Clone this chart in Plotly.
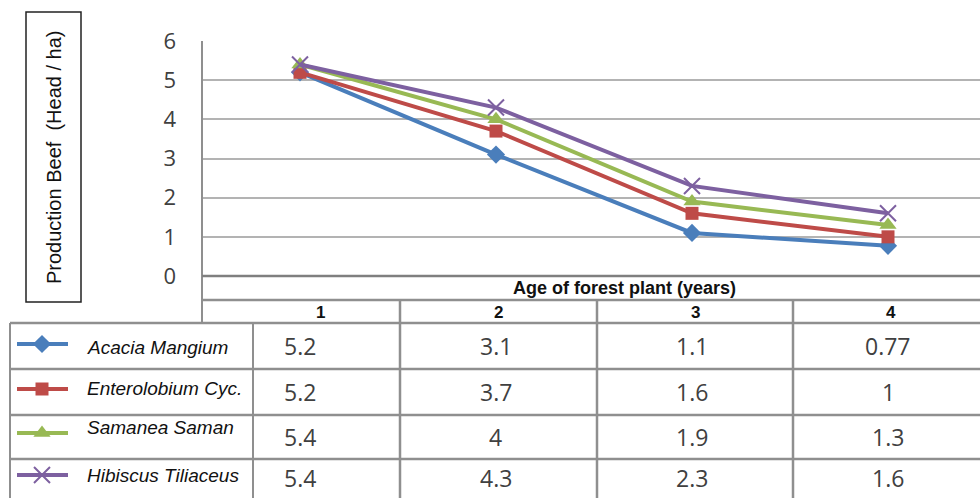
import plotly.graph_objects as go

# ---------------- data ----------------
years = [1, 2, 3, 4]
year_labels = ["1", "2", "3", "4"]
series_names = ["Acacia Mangium", "Enterolobium Cyc.", "Samanea Saman", "Hibiscus Tiliaceus"]
acacia = [5.2, 3.1, 1.1, 0.77]
enterolobium = [5.2, 3.7, 1.6, 1]
samanea = [5.4, 4, 1.9, 1.3]
hibiscus = [5.4, 4.3, 2.3, 1.6]
y_tick_values = [0, 1, 2, 3, 4, 5, 6]
x_title = "Age of forest plant (years)"
y_title = "Production Beef  (Head / ha)"

series_values = [acacia, enterolobium, samanea, hibiscus]

# ---------------- styles ----------------
W, H = 980, 498
colors = ["#4a7ebb", "#be4b48", "#98b954", "#7d60a0"]
symbols = ["diamond", "square", "triangle-up", "x-thin-open"]
msizes = [14, 13, 15, 16]
grid_col = "#b3b3b3"
tbl_col = "#8f8f8f"

PLOT_LEFT = 202
CAT_STEP = 196
Y0_PX, Y6_PX = 276, 41


def fx(x):
    return x / W


def fy(y):
    return 1 - y / H


def cat_px(v):
    return PLOT_LEFT + (v - 0.5) * CAT_STEP


fig = go.Figure()

# main lines
for name, vals, c, s, ms in zip(series_names, series_values, colors, symbols, msizes):
    fig.add_trace(go.Scatter(
        x=years, y=vals, name=name, mode="lines+markers",
        line=dict(color=c, width=4),
        marker=dict(symbol=s, size=ms, color=c,
                    line=dict(color=c, width=2 if "x" in s else 0)),
        showlegend=False, xaxis="x", yaxis="y",
    ))

# table layout (pixel positions)
row_lines = [323, 369, 415, 459]
row_centers = [346, 392, 437, 478]
legend_text_y = [347, 388, 427, 475]
legend_sample_y = [344, 389, 433, 475]
col_lines = [400, 597, 793]
header_x = [320, 498, 695, 891]

# legend samples in the data table (overlay pixel axes)
for name, c, s, ms, yy in zip(series_names, colors, symbols, msizes, legend_sample_y):
    fig.add_trace(go.Scatter(
        x=[17, 42, 68], y=[yy, yy, yy], mode="lines+markers",
        line=dict(color=c, width=4),
        marker=dict(symbol=s, size=ms, color=c, opacity=[0, 1, 0],
                    line=dict(color=c, width=2 if "x" in s else 0)),
        showlegend=False, xaxis="x2", yaxis="y2", hoverinfo="skip",
    ))

shapes = []
# y title box
shapes.append(dict(type="rect", xref="paper", yref="paper",
                   x0=fx(26), x1=fx(81), y0=fy(302), y1=fy(12),
                   line=dict(color="#222222", width=1.5)))
# plot left border
shapes.append(dict(type="line", xref="paper", yref="paper",
                   x0=fx(PLOT_LEFT), x1=fx(PLOT_LEFT), y0=fy(323), y1=fy(Y6_PX),
                   line=dict(color=tbl_col, width=2)))
# header row top line
shapes.append(dict(type="line", xref="paper", yref="paper",
                   x0=fx(PLOT_LEFT), x1=1, y0=fy(300), y1=fy(300),
                   line=dict(color=tbl_col, width=2.5)))
# table row lines
for ry in row_lines:
    shapes.append(dict(type="line", xref="paper", yref="paper",
                       x0=fx(10), x1=1, y0=fy(ry), y1=fy(ry),
                       line=dict(color=tbl_col, width=2.5)))
# column lines
for cx in col_lines:
    shapes.append(dict(type="line", xref="paper", yref="paper",
                       x0=fx(cx), x1=fx(cx), y0=0, y1=fy(300),
                       line=dict(color=tbl_col, width=2.5)))
# legend column borders
for cx in [10, 253]:
    shapes.append(dict(type="line", xref="paper", yref="paper",
                       x0=fx(cx), x1=fx(cx), y0=0, y1=fy(323),
                       line=dict(color=tbl_col, width=2)))
# x axis (zero) line
shapes.append(dict(type="line", xref="paper", yref="paper",
                   x0=fx(PLOT_LEFT), x1=1, y0=fy(Y0_PX), y1=fy(Y0_PX),
                   line=dict(color="#7f7f7f", width=2.5)))

annotations = []


def ann(text, x, y, font, xanchor="center", angle=0):
    annotations.append(dict(text=text, xref="paper", yref="paper",
                            x=fx(x), y=fy(y), xanchor=xanchor, yanchor="middle",
                            textangle=angle, showarrow=False, font=font))


ann(y_title, 54, 158, dict(family="Liberation Sans, Arial", size=20, color="#111111"), angle=-90)
ann("<b>" + x_title + "</b>", 624, 288, dict(family="Liberation Sans, Arial", size=18, color="#111111"))
for lab, hx in zip(year_labels, header_x):
    ann("<b>" + lab + "</b>", hx, 312, dict(family="Liberation Sans, Arial", size=17, color="#111111"))
for name, ty in zip(series_names, legend_text_y):
    ann("<i>" + name + "</i>", 85, ty, dict(family="Liberation Sans, Arial", size=19, color="#111111"),
        xanchor="left")
for vals, ry in zip(series_values, row_centers):
    for yr, v in zip(years, vals):
        ann(f"{v:g}", cat_px(yr), ry, dict(family="Open Sans", size=23, color="#404040"))

fig.update_layout(
    template="none",
    width=W, height=H, autosize=False,
    margin=dict(l=0, r=0, t=0, b=0, pad=0, autoexpand=False),
    paper_bgcolor="white", plot_bgcolor="rgba(0,0,0,0)",
    showlegend=False,
    xaxis=dict(domain=[fx(PLOT_LEFT), 1], range=[0.5, 0.5 + (W - PLOT_LEFT) / CAT_STEP],
               showgrid=False, showticklabels=False, zeroline=False, showline=False,
               ticks="", anchor="y", fixedrange=True, automargin=False),
    yaxis=dict(domain=[fy(Y0_PX), fy(Y6_PX)], range=[0, 6], tickvals=y_tick_values,
               showgrid=True, gridcolor=grid_col, gridwidth=2, zeroline=False,
               showline=False, ticks="", ticklabelstandoff=25, automargin=False,
               tickfont=dict(family="Open Sans", size=22, color="#404040"),
               anchor="x", fixedrange=True),
    xaxis2=dict(domain=[0, 1], range=[0, W], visible=False, anchor="y2",
                fixedrange=True, automargin=False),
    yaxis2=dict(domain=[0, 1], range=[H, 0], visible=False, anchor="x2",
                fixedrange=True, automargin=False),
    shapes=shapes,
    annotations=annotations,
)

fig.write_html(
    "out.html",
    config={"displayModeBar": False},
    post_script="document.body.style.margin='0';document.body.style.overflow='hidden';",
)
